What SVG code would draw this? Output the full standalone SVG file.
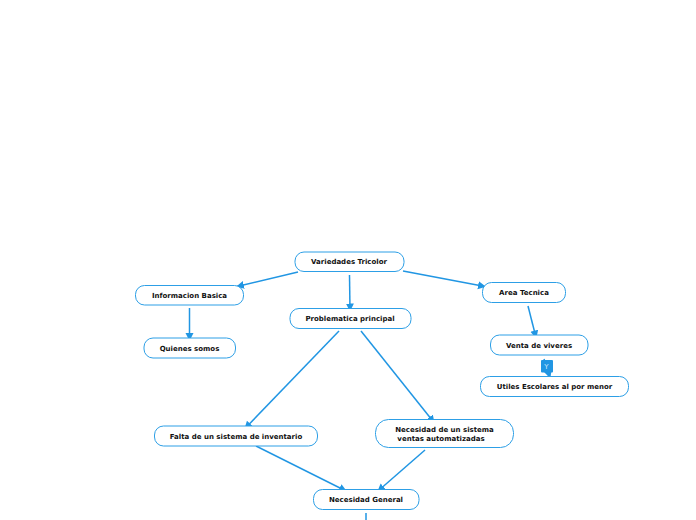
<svg xmlns="http://www.w3.org/2000/svg" width="696" height="520" viewBox="0 0 696 520">
<defs>
<style>
.n{fill:#fff;stroke:#2d9fe6;stroke-width:1}
.t{font-family:"DejaVu Sans",Verdana,sans-serif;font-size:7px;font-weight:bold;fill:#111;text-anchor:middle}
.c{fill:none;stroke:#2196e3;stroke-width:1.500;marker-end:url(#a)}
</style>
<marker id="a" markerUnits="userSpaceOnUse" markerWidth="9" markerHeight="9" refX="7" refY="4" orient="auto"><path d="M0 0L8 4L0 8Z" fill="#2196e3"/></marker>
</defs>
<rect width="696" height="520" fill="#fff"/>
<g id="connectors">
<path class="c" d="M298 272L237 286.500"/>
<path class="c" d="M349.500 275L350 310.500"/>
<path class="c" d="M403 271L485 286.500"/>
<path class="c" d="M189.500 308L189.500 340"/>
<path class="c" d="M339 331L245 428.500"/>
<path class="c" d="M361 331L434 422.500"/>
<path class="c" d="M528 306L536 337.500"/>
<path class="c" d="M544 359L550 377.500"/>
<path class="c" d="M256 446L346 491"/>
<path class="c" d="M425 450L378 491"/>
<path d="M366 513L366 520" fill="none" stroke="#2196e3" stroke-width="1.500"/>
</g>
<g id="n1"><rect class="n" x="295" y="252" width="109" height="19.500" rx="9"/><text class="t" x="349" y="264">Variedades Tricolor</text></g>
<g id="n2"><rect class="n" x="135.500" y="285.500" width="108" height="19.500" rx="9"/><text class="t" x="189.500" y="298">Informacion Basica</text></g>
<g id="n3"><rect class="n" x="290" y="308.500" width="121" height="20" rx="9"/><text class="t" x="350" y="321">Problematica principal</text></g>
<g id="n4"><rect class="n" x="482.500" y="282.500" width="83" height="20" rx="9"/><text class="t" x="524" y="295">Area Tecnica</text></g>
<g id="n5"><rect class="n" x="144" y="338" width="91.500" height="20" rx="9"/><text class="t" x="189.500" y="351">Quienes somos</text></g>
<g id="n6"><rect class="n" x="490.500" y="335" width="97.500" height="20" rx="9"/><text class="t" x="539" y="348">Venta de viveres</text></g>
<g id="n7"><rect class="n" x="480.500" y="376.500" width="148" height="20" rx="9"/><text class="t" x="554.500" y="389">Utiles Escolares al por menor</text></g>
<g id="n8"><rect class="n" x="154.500" y="426" width="163" height="20" rx="9"/><text class="t" x="236" y="439">Falta de un sistema de inventario</text></g>
<g id="n9"><rect class="n" x="375.500" y="419.500" width="138" height="28" rx="13"/><text class="t" x="444.500" y="432">Necesidad de un sistema</text><text class="t" x="441" y="441">ventas automatizadas</text></g>
<g id="n10"><rect class="n" x="313.500" y="489.500" width="105.500" height="20" rx="9"/><text class="t" x="366" y="502">Necesidad General</text></g>
<g id="label"><rect x="541" y="360" width="12" height="12.500" rx="1" fill="#2196e3"/><text x="546.500" y="369" font-family="'DejaVu Sans',sans-serif" font-size="7px" fill="#cfe9fb" text-anchor="middle">Y</text></g>
</svg>
